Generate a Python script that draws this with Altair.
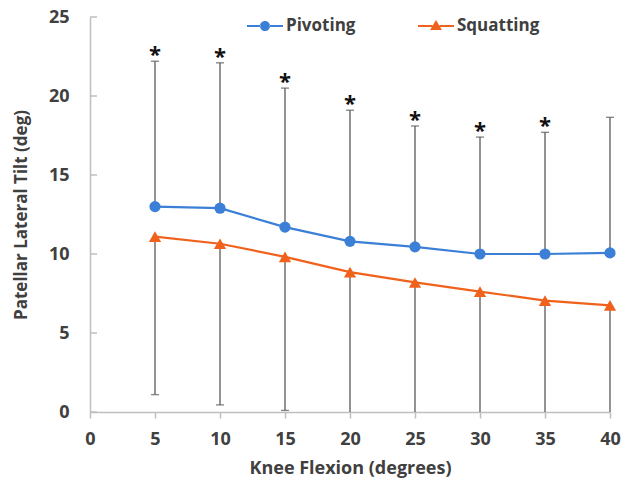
import altair as alt
import pandas as pd

flexion = [5, 10, 15, 20, 25, 30, 35, 40]
pivoting = [13.0, 12.9, 11.7, 10.8, 10.45, 10.0, 10.0, 10.07]
squatting = [11.1, 10.65, 9.82, 8.85, 8.2, 7.62, 7.05, 6.75]
pivot_upper = [22.2, 22.1, 20.5, 19.1, 18.1, 17.4, 17.7, 18.65]
squat_lower = [1.1, 0.45, 0.1, 0.0, 0.0, 0.0, 0.0, 0.0]
significant = ["*", "*", "*", "*", "*", "*", "*", ""]
y_ticks = [0, 5, 10, 15, 20, 25]
x_ticks = [0, 5, 10, 15, 20, 25, 30, 35, 40]
series_names = ["Pivoting", "Squatting"]
colors = ["#3b7fd6", "#f0621c"]

FONT = "Open Sans"
TXT = "#404040"
AX = "#bfbfbf"
BAR = "#5a5a5a"

long_rows = []
for i, x in enumerate(flexion):
    long_rows.append({"x": x, "series": "Pivoting", "y": pivoting[i]})
    long_rows.append({"x": x, "series": "Squatting", "y": squatting[i]})
df = pd.DataFrame(long_rows)

err = pd.DataFrame({
    "x": flexion, "piv": pivoting, "sq": squatting,
    "up": pivot_upper, "lo": squat_lower, "sig": significant,
})
ticks_df = pd.DataFrame({"t": y_ticks})

xs = alt.Scale(domain=[0, 40], nice=False, zero=False)
ys = alt.Scale(domain=[0, 25], nice=False)

xaxis = alt.Axis(values=x_ticks, grid=False, ticks=True, tickSize=6, tickColor=AX,
                 tickWidth=1.5, domainColor=AX, domainWidth=1.5, labelFlush=False,
                 labelFont=FONT, labelFontSize=18, labelFontWeight="bold",
                 labelColor=TXT, labelPadding=12,
                 titleFont=FONT, titleFontSize=18, titleFontWeight="bold",
                 titleColor=TXT, titlePadding=11)
yaxis = alt.Axis(values=y_ticks, grid=False, ticks=False, domainColor=AX, domainWidth=1.5,
                 labelFlush=False,
                 labelFont=FONT, labelFontSize=18, labelFontWeight="bold",
                 labelColor=TXT, labelPadding=21,
                 titleFont=FONT, titleFontSize=17, titleFontWeight="bold",
                 titleColor=TXT, titlePadding=18)
XT = "Knee Flexion (degrees)"
YT = "Patellar Lateral Tilt (deg)"


def X(f):
    return alt.X(f, scale=xs, axis=xaxis, title=XT)


def Y(f):
    return alt.Y(f, scale=ys, axis=yaxis, title=YT)


upper_bars = alt.Chart(err).mark_rule(color=BAR, strokeWidth=1.3).encode(
    x=X("x:Q"), y=Y("piv:Q"), y2="up:Q")
upper_caps = alt.Chart(err).mark_tick(color=BAR, orient="horizontal", size=8, thickness=1.4).encode(
    x=X("x:Q"), y=Y("up:Q"))
lower_bars = alt.Chart(err).mark_rule(color=BAR, strokeWidth=1.3).encode(
    x=X("x:Q"), y=Y("sq:Q"), y2="lo:Q")
lower_caps = alt.Chart(err).transform_filter("datum.lo > 0").mark_tick(
    color=BAR, orient="horizontal", size=8, thickness=1.4).encode(
    x=X("x:Q"), y=Y("lo:Q"))
stars = alt.Chart(err).mark_text(font=FONT, fontSize=22, fontWeight="bold", color="#111111",
                                 baseline="alphabetic", dy=1).encode(
    x=X("x:Q"), y=Y("up:Q"), text="sig:N")

ytick_marks = alt.Chart(ticks_df).mark_rule(color=AX, strokeWidth=1.5).encode(
    y=Y("t:Q"), x=alt.value(0), x2=alt.value(7))

piv_line = alt.Chart(df).transform_filter("datum.series == 'Pivoting'").mark_line(
    strokeWidth=2.2, color=colors[0]).encode(x=X("x:Q"), y=Y("y:Q"))
sq_line = alt.Chart(df).transform_filter("datum.series == 'Squatting'").mark_line(
    strokeWidth=2.2, color=colors[1]).encode(x=X("x:Q"), y=Y("y:Q"))
piv_pts = alt.Chart(df).transform_filter("datum.series == 'Pivoting'").mark_point(
    filled=True, opacity=1, shape="circle", size=125, color=colors[0]).encode(
    x=X("x:Q"), y=Y("y:Q"))
sq_pts = alt.Chart(df).transform_filter("datum.series == 'Squatting'").mark_point(
    filled=True, opacity=1, shape="triangle-up", size=150, color=colors[1]).encode(
    x=X("x:Q"), y=Y("y:Q"))

circle_sym = ("M-1,-0.055H-0.26V0.055H-1Z M0.26,-0.055H1V0.055H0.26Z "
              "M-0.28,0A0.28,0.28 0 1,0 0.28,0A0.28,0.28 0 1,0 -0.28,0Z")
tri_sym = ("M-1,-0.055H-0.2V0.055H-1Z M0.2,-0.055H1V0.055H0.2Z "
           "M0,-0.34L0.33,0.22L-0.33,0.22Z")

leg = alt.Legend(title=None, orient="none", direction="horizontal",
                 legendX=157, legendY=-9, symbolSize=1296,
                 symbolStrokeWidth=0, symbolOpacity=1, labelFont=FONT, labelFontSize=17,
                 labelFontWeight="bold", labelColor=TXT, labelOffset=3,
                 columnPadding=62, padding=0)

legend_layer = alt.Chart(df).mark_point(filled=True, opacity=0).encode(
    x=X("x:Q"), y=Y("y:Q"),
    color=alt.Color("series:N", scale=alt.Scale(domain=series_names, range=colors), legend=leg),
    shape=alt.Shape("series:N", scale=alt.Scale(domain=series_names, range=[circle_sym, tri_sym]),
                    legend=leg))

chart = alt.layer(
    piv_line, sq_line, upper_bars, upper_caps, lower_bars, lower_caps, stars, ytick_marks,
    piv_pts, sq_pts, legend_layer
).properties(
    width=520, height=395,
    autosize=alt.AutoSizeParams(type="none"),
    padding={"left": 82, "top": 9, "right": 11, "bottom": 67},
    background="white",
).configure_view(stroke=None)

chart.save("out.html", embed_options={"renderer": "svg", "actions": False})
